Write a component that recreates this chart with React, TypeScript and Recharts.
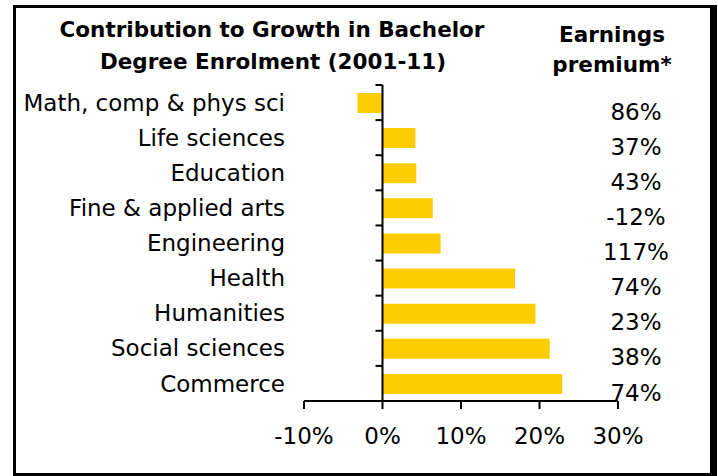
import { BarChart, Bar, XAxis, YAxis, ReferenceLine } from 'recharts'

// contribution to growth in bachelor degree enrolment, 2001-11 (share, %)
const fields = [
  'Math, comp & phys sci',
  'Life sciences',
  'Education',
  'Fine & applied arts',
  'Engineering',
  'Health',
  'Humanities',
  'Social sciences',
  'Commerce',
]
const growthShare = [-3.2, 4.2, 4.3, 6.4, 7.4, 16.9, 19.5, 21.3, 22.9]
const earningsPremium = ['86%', '37%', '43%', '-12%', '117%', '74%', '23%', '38%', '74%']
const xTicks = [-10, 0, 10, 20, 30]

const data = fields.map((field, i) => ({ field, growth: growthShare[i], premium: earningsPremium[i] }))
const premiumByField: Record<string, string> = Object.fromEntries(data.map((d) => [d.field, d.premium]))

const FONT = 'DejaVu Sans, Verdana, sans-serif'

function ZeroAxis(props: any) {
  const { x1, y1, y2 } = props
  const top = Math.min(y1, y2)
  const bottom = Math.max(y1, y2)
  const step = (bottom - top) / fields.length
  return (
    <g>
      <line x1={x1} x2={x1} y1={top} y2={bottom} stroke="#000" strokeWidth={2} />
      {fields.map((f, k) => (
        <line key={f} x1={x1 - 7} x2={x1} y1={top + k * step} y2={top + k * step} stroke="#000" strokeWidth={2} />
      ))}
    </g>
  )
}

function PremiumTick(props: any) {
  const { x, y, payload } = props
  return (
    <text x={x} y={y + 9} dy="0.355em" textAnchor="middle" fill="#000" fontSize={23} fontFamily={FONT}>
      {premiumByField[payload.value]}
    </text>
  )
}

export default function App() {
  return (
    <div style={{ position: 'absolute', left: 0, top: 0, width: 718, height: 476, background: '#fff' }}>
      <div
        style={{
          position: 'absolute',
          left: 13,
          top: 5,
          width: 704,
          height: 471,
          boxSizing: 'border-box',
          borderStyle: 'solid',
          borderColor: '#000',
          borderWidth: '3px 7px 3px 3px',
        }}
      />
      <BarChart
        width={718}
        height={476}
        data={data}
        layout="vertical"
        margin={{ top: 85, right: 40, left: 0, bottom: 0 }}
        style={{ position: 'absolute', left: 0, top: 0 }}
      >
        <XAxis
          type="number"
          domain={[-10, 30]}
          ticks={xTicks}
          tickFormatter={(v: number) => `${v}%`}
          axisLine={{ stroke: '#000', strokeWidth: 2 }}
          tickLine={{ stroke: '#000', strokeWidth: 2 }}
          tickSize={8}
          tickMargin={19}
          tick={{ fill: '#000', fontSize: 23, fontFamily: FONT }}
          height={75}
        />
        <YAxis
          yAxisId="field"
          type="category"
          dataKey="field"
          width={304}
          axisLine={false}
          tickLine={false}
          tickSize={0}
          tickMargin={19}
          interval={0}
          tick={{ fill: '#000', fontSize: 23, fontFamily: FONT }}
        />
        <YAxis
          yAxisId="premium"
          orientation="right"
          type="category"
          dataKey="field"
          width={60}
          axisLine={false}
          tickLine={false}
          tickSize={0}
          tickMargin={18}
          interval={0}
          tick={<PremiumTick />}
        />
        <Bar dataKey="growth" yAxisId="field" fill="#FFCC00" barSize={20} isAnimationActive={false} />
        <ReferenceLine x={0} yAxisId="field" shape={<ZeroAxis />} />
      </BarChart>
      <svg width={718} height={476} style={{ position: 'absolute', left: 0, top: 0, pointerEvents: 'none' }}>
        <g fontFamily={FONT} fontWeight="bold" fontSize={21.5} fill="#000" textAnchor="middle">
          <text x={272} y={37}>Contribution to Growth in Bachelor</text>
          <text x={273} y={69}>Degree Enrolment (2001-11)</text>
          <text x={612} y={42}>Earnings</text>
          <text x={612} y={72}>premium*</text>
        </g>
      </svg>
    </div>
  )
}
